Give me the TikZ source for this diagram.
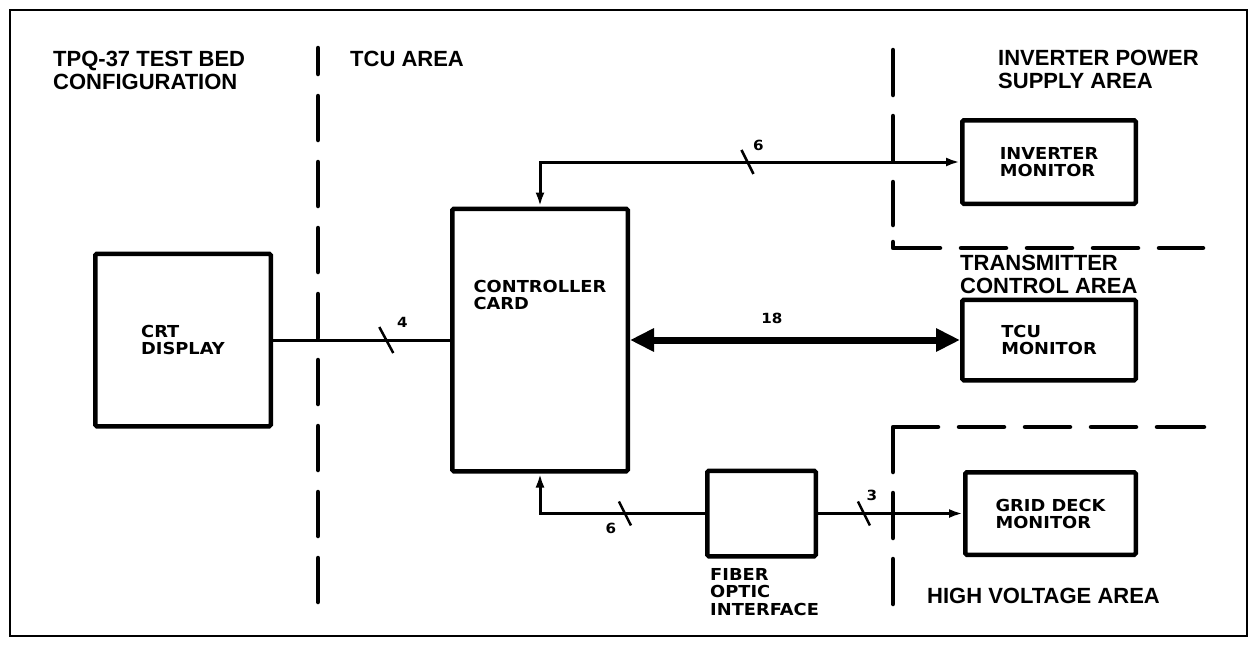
\documentclass[tikz,border=0pt]{standalone}
\usepackage{fontspec}
\setmainfont{Liberation Sans}
\newfontfamily\lblfont{DejaVu Sans}[FakeStretch=1.08]
\usetikzlibrary{arrows.meta,calc}
\tikzset{
  sm/.tip={Latex[length=14pt,width=9pt]},
  big/.tip={Triangle[length=24pt,width=22pt]}
}
\begin{document}
\begin{tikzpicture}[x=1pt,y=-1pt,
  box/.style={draw,line width=4.5pt,rounded corners=1.5pt,inner sep=0pt,align=left,
    font=\lblfont\bfseries\fontsize{16.5}{17}\selectfont},
  head/.style={anchor=north west,inner sep=0pt,align=left,
    font=\bfseries\fontsize{22}{22.5}\selectfont},
  lbl/.style={inner sep=0pt,align=left,
    font=\lblfont\bfseries\fontsize{16.5}{17.5}\selectfont},
  num/.style={inner sep=0pt,font=\lblfont\bfseries\fontsize{14}{14}\selectfont},
  wire/.style={line width=3pt},
  tick/.style={line width=2.5pt},
  area/.style={line width=4.5pt,line cap=round,line join=round},
  frame/.style={line width=2.5pt}]
\useasboundingbox (0,0) rectangle (1256,646);
\draw[frame] (10,10) rectangle (1247,636);

% area boundaries
\draw[area, dash pattern=on 44pt off 22pt, dash phase=18pt] (318,48) -- (318,602);
\draw[area, dash pattern=on 45pt off 21pt on 45pt off 21pt on 43pt off 17pt on 53pt off 21pt on 45pt off 21pt on 45pt off 21pt on 45pt off 21pt on 45pt off 21pt]
  (893,50) -- (893,248) -- (1203,248);
\draw[area, dash pattern=on 45pt off 21pt on 45pt off 21pt on 90pt off 21pt on 45pt off 21pt on 45pt off 21pt on 45pt off 21pt on 47pt off 21pt]
  (893,604) -- (893,427) -- (1204,427);

% headings
\node[head] (h1) at (53,51) {TPQ-37 TEST BED\\CONFIGURATION};
\node[head] (h2) at (350,51) {TCU AREA};
\node[head] (h3) at (998,50) {INVERTER POWER\\SUPPLY AREA};
\node[head] (h4) at (960,255) {TRANSMITTER\\CONTROL AREA};
\node[head] (h5) at (927,588) {HIGH VOLTAGE AREA};

% boxes
\node[box, minimum width=175.5pt, minimum height=172.5pt] (crt) at (183,340) {CRT\\DISPLAY};
\node[box, minimum width=175.5pt, minimum height=262.5pt] (ctrl) at (540,340) {};
\node[lbl, anchor=north] (ctrltxt) at (540,280) {CONTROLLER\\CARD};
\node[box, minimum width=173.5pt, minimum height=83.5pt] (inv) at (1049,162) {INVERTER\\MONITOR};
\node[box, minimum width=173.5pt, minimum height=80.5pt] (tcu) at (1049,340) {TCU\\MONITOR};
\node[box, minimum width=170.5pt, minimum height=82.5pt] (grid) at (1050.5,513.5) {GRID DECK\\MONITOR};
\node[box, minimum width=108.5pt, minimum height=85.5pt] (fiber) at (761.5,513.5) {};
\node[lbl, anchor=north west] (fibertxt) at (710,568) {FIBER\\OPTIC\\INTERFACE};

% connectors
\draw[wire] (crt.east) -- (ctrl.west);
\draw[wire, sm-sm] (ctrl.north) |- (inv.west);
\draw[line width=7pt, big-big] (ctrl.east) -- (tcu.west)
  node[num, pos=0.43, above=13pt] (n18) {18};
\draw[wire, -sm] (fiber.west) -| (ctrl.south);
\draw[wire, -sm] (fiber.east) -- (grid.west);

% bus width ticks
\coordinate (t4) at ($(crt.east)!0.64!(ctrl.west)$);
\draw[tick] ($(t4)+(-7,-13)$) -- ($(t4)+(7,13)$);
\node[num] (n4) at ($(t4)+(16,-18)$) {4};

\coordinate (t6a) at ($(ctrl.north |- inv.west)!0.494!(inv.west)$);
\draw[tick] ($(t6a)+(-6,-12)$) -- ($(t6a)+(6,12)$);
\node[num] (n6a) at ($(t6a)+(11,-17)$) {6};

\coordinate (t6b) at ($(ctrl.south |- fiber.west)!0.515!(fiber.west)$);
\draw[tick] ($(t6b)+(-6,-12)$) -- ($(t6b)+(6,12)$);
\node[num] (n6b) at ($(t6b)+(-14,15)$) {6};

\coordinate (t3) at ($(fiber.east)!0.317!(grid.west)$);
\draw[tick] ($(t3)+(-6,-12)$) -- ($(t3)+(6,12)$);
\node[num] (n3) at ($(t3)+(8,-18)$) {3};
\end{tikzpicture}
\end{document}
